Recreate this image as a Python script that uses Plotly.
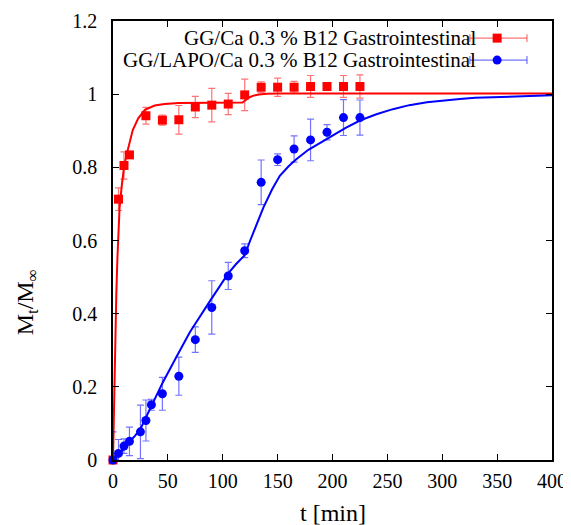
import plotly.graph_objects as go

# ---- data ----
red_t = [0, 5, 10, 15, 30, 45, 60, 75, 90, 105, 120, 135, 150, 165, 180, 195, 210, 225]
red_y = [0, 0.713, 0.805, 0.834, 0.941, 0.929, 0.930, 0.965, 0.970, 0.973, 0.998,
         1.019, 1.019, 1.019, 1.021, 1.021, 1.021, 1.021]
red_err = [0.005, 0.031, 0.037, 0.005, 0.023, 0.014, 0.039, 0.029, 0.046, 0.029, 0.043,
           0.015, 0.025, 0.016, 0.030, 0.005, 0.030, 0.032]

blue_t = [0, 5, 10, 15, 25, 30, 35, 45, 60, 75, 90, 105, 120, 135, 150, 165, 180, 195, 210, 225]
blue_y = [0, 0.018, 0.038, 0.051, 0.077, 0.108, 0.151, 0.181, 0.229, 0.329, 0.417, 0.503,
          0.572, 0.759, 0.821, 0.850, 0.875, 0.896, 0.936, 0.936]
blue_err = [0.077, 0.038, 0.020, 0.039, 0.073, 0.056, 0.015, 0.045, 0.052, 0.035, 0.073,
            0.037, 0.019, 0.061, 0.016, 0.036, 0.057, 0.021, 0.049, 0.048]

red_fit_t = [0, 1, 2, 3, 4, 5, 6, 8, 10, 12, 14, 18, 23, 29, 38, 47, 60, 80, 100, 118,
             121, 124, 128, 133, 140, 150, 200, 400]
red_fit_y = [0, 0.18, 0.33, 0.45, 0.55, 0.63, 0.69, 0.75, 0.80, 0.83, 0.857, 0.902, 0.934,
             0.957, 0.969, 0.973, 0.976, 0.977, 0.977, 0.977, 0.984, 0.991, 0.996, 0.999,
             1.001, 1.002, 1.002, 1.002]

blue_fit_t = [0, 5, 10, 15, 20, 25, 30, 35, 45, 58, 70, 88, 105, 112, 120, 125, 129, 137,
              145, 152, 160, 167, 178, 189, 200, 212, 225, 240, 255, 270, 286, 300, 316,
              330, 346, 360, 377, 390, 400]
blue_fit_y = [0, 0.014, 0.03, 0.05, 0.066, 0.085, 0.117, 0.150, 0.210, 0.283, 0.349, 0.433,
              0.510, 0.535, 0.560, 0.600, 0.630, 0.690, 0.740, 0.777, 0.803, 0.822, 0.848,
              0.868, 0.888, 0.908, 0.928, 0.945, 0.959, 0.970, 0.978, 0.983, 0.987, 0.990,
              0.992, 0.994, 0.995, 0.996, 0.997]

legend_labels = ["GG/Ca 0.3 % B12 Gastrointestinal",
                 "GG/LAPO/Ca 0.3 % B12 Gastrointestinal"]

x_ticks = [0, 50, 100, 150, 200, 250, 300, 350, 400]
y_ticks = [0, 0.2, 0.4, 0.6, 0.8, 1, 1.2]

RED = "#ff0000"
BLUE = "#0000ff"
RED_ERR = "rgba(255,0,0,0.55)"
BLUE_ERR = "rgba(0,0,255,0.55)"
FONT = "Liberation Serif, Times New Roman, serif"

fig = go.Figure()

fig.add_trace(go.Scatter(
    x=red_t, y=red_y, mode="markers", cliponaxis=False, showlegend=False,
    marker=dict(symbol="square", size=9, color=RED),
    error_y=dict(type="data", array=red_err, color=RED_ERR, thickness=1.2, width=3.5)))
fig.add_trace(go.Scatter(
    x=red_fit_t, y=red_fit_y, mode="lines", showlegend=False,
    line=dict(color=RED, width=2)))
fig.add_trace(go.Scatter(
    x=blue_t, y=blue_y, mode="markers", cliponaxis=False, showlegend=False,
    marker=dict(symbol="circle", size=9, color=BLUE),
    error_y=dict(type="data", array=blue_err, color=BLUE_ERR, thickness=1.2, width=3.5)))
fig.add_trace(go.Scatter(
    x=blue_fit_t, y=blue_fit_y, mode="lines", showlegend=False,
    line=dict(color=BLUE, width=2)))

# ---- manual gnuplot-style key (top right, text right-aligned, sample on the right) ----
key_rows = [0.961, 0.911]
key_colors = [(RED, RED_ERR, "square"), (BLUE, BLUE_ERR, "circle")]
sx0, sx1, smk, stx = 0.813, 0.943, 0.875, 0.831
shapes = []
annotations = []
for row_y, (c, ce, sym), lab in zip(key_rows, key_colors, legend_labels):
    shapes.append(dict(type="line", xref="paper", yref="paper", x0=sx0, x1=sx1,
                       y0=row_y, y1=row_y, line=dict(color=ce, width=1.2)))
    for xx in (sx0, sx1):
        shapes.append(dict(type="line", xref="paper", yref="paper", x0=xx, x1=xx,
                           y0=row_y - 0.009, y1=row_y + 0.009, line=dict(color=ce, width=1.2)))
    annotations.append(dict(text=lab, xref="paper", yref="paper", x=stx, y=row_y,
                            xanchor="right", yanchor="middle", showarrow=False,
                            font=dict(family=FONT, size=21, color="black")))
    fig.add_trace(go.Scatter(x=[smk], y=[row_y], xaxis="x2", yaxis="y2", mode="markers",
                             showlegend=False, hoverinfo="skip",
                             marker=dict(symbol=sym, size=9, color=c)))

# axis titles
annotations.append(dict(text="t [min]", xref="paper", yref="paper", x=0.5, y=-0.12,
                        xanchor="center", yanchor="middle", showarrow=False,
                        font=dict(family=FONT, size=24, color="black")))
annotations.append(dict(text="M<sub>t</sub>/M<sub>∞</sub>", xref="paper", yref="paper",
                        x=-0.195, y=0.36, xanchor="center", yanchor="middle",
                        textangle=-90, showarrow=False,
                        font=dict(family=FONT, size=24, color="black")))

axis_common = dict(showgrid=False, zeroline=False, showline=True, linecolor="black",
                   linewidth=1.5, mirror="ticks", ticks="inside", ticklen=6,
                   tickwidth=1, tickcolor="black", automargin=False,
                   tickfont=dict(family=FONT, size=20, color="black"))

# the page body adds an 8px offset, so the figure is 8px smaller and margins shifted
fig.update_layout(
    width=563, height=517,
    margin=dict(l=105, r=19, t=13, b=65),
    paper_bgcolor="white", plot_bgcolor="white",
    showlegend=False,
    xaxis=dict(range=[0, 400], tickvals=x_ticks, ticklabelstandoff=2, **axis_common),
    yaxis=dict(range=[0, 1.2], tickvals=y_ticks, ticklabelstandoff=10, **axis_common),
    xaxis2=dict(overlaying="x", range=[0, 1], visible=False, domain=[0, 1]),
    yaxis2=dict(overlaying="y", range=[0, 1], visible=False, domain=[0, 1]),
    shapes=shapes,
    annotations=annotations,
)

fig.write_html("out.html")
